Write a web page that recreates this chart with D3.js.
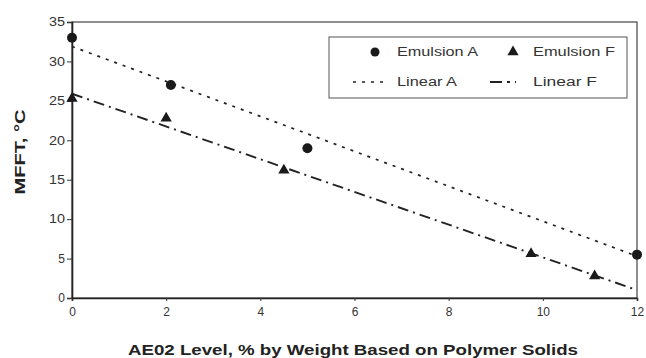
<!DOCTYPE html>
<html>
<head>
<meta charset="utf-8">
<script src="https://cdn.jsdelivr.net/npm/d3@7"></script>
<style>
  body { margin: 0; background: #fff; }
  svg { font-family: Arial, "Liberation Sans", sans-serif; }
</style>
</head>
<body>
<div id="chart"></div>
<script>
'use strict';

// measured points
const emulsionAx = [0, 2.1, 5, 12];
const emulsionAy = [33, 27, 19, 5.5];
const emulsionFx = [0, 2, 4.5, 9.75, 11.1];
const emulsionFy = [25.3, 22.8, 16.2, 5.6, 2.8];
// linear fits (end points)
const linearAx = [0, 12];
const linearAy = [31.9, 5.3];
const linearFx = [0, 12];
const linearFy = [25.9, 1.0];

const xTicks = [0, 2, 4, 6, 8, 10, 12];
const yTicks = [0, 5, 10, 15, 20, 25, 30, 35];
const xTitle = 'AE02 Level, % by Weight Based on Polymer Solids';
const yTitle = 'MFFT, °C';

const margin = {top: 22, right: 9, bottom: 60, left: 72};
const W = 646, H = 358;
const width = W - margin.left - margin.right;
const height = H - margin.top - margin.bottom;

const svg = d3.select('#chart').append('svg')
    .attr('width', W)
    .attr('height', H);

const g = svg.append('g')
    .attr('transform', `translate(${margin.left}, ${margin.top})`);

const x = d3.scaleLinear().domain([0, 12]).range([0, width]);
const y = d3.scaleLinear().domain([0, 35]).range([height, 0]);

// frame
g.append('rect')
    .attr('width', width)
    .attr('height', height)
    .attr('fill', 'none')
    .attr('stroke', '#444')
    .attr('stroke-width', 1.2);

const xAxis = g.append('g')
    .attr('transform', `translate(0, ${height})`)
    .call(d3.axisBottom(x).tickValues(xTicks).tickSize(3).tickPadding(6).tickFormat(d3.format('d')));
const yAxis = g.append('g')
    .call(d3.axisLeft(y).tickValues(yTicks).tickSize(5).tickPadding(2).tickFormat(d3.format('d')));

[xAxis, yAxis].forEach(a => {
  a.select('.domain').attr('stroke', '#222').attr('stroke-width', 1.6);
  a.selectAll('line').attr('stroke', '#333');
  a.selectAll('text').attr('fill', '#333').style('font-size', '12px');
});
yAxis.selectAll('text').attr('textLength', 16).attr('lengthAdjust', 'spacingAndGlyphs');
yAxis.selectAll('.tick').filter(d => d < 10).select('text').attr('textLength', null);

// fit lines
const line = d3.line().x(d => x(d[0])).y(d => y(d[1]));
g.append('path')
    .datum(d3.zip(linearAx, linearAy))
    .attr('d', line)
    .attr('fill', 'none')
    .attr('stroke', '#222')
    .attr('stroke-width', 1.7)
    .attr('stroke-dasharray', '3,6');
g.append('path')
    .datum(d3.zip(linearFx, linearFy))
    .attr('d', line)
    .attr('fill', 'none')
    .attr('stroke', '#222')
    .attr('stroke-width', 1.9)
    .attr('stroke-dasharray', '11,5,2,5');

// markers
g.selectAll('.ptA')
    .data(d3.zip(emulsionAx, emulsionAy))
  .enter().append('circle')
    .attr('cx', d => x(d[0]))
    .attr('cy', d => y(d[1]))
    .attr('r', 5)
    .attr('fill', '#1a1a1a');

const tri = d3.symbol().type(d3.symbolTriangle).size(55);
g.selectAll('.ptF')
    .data(d3.zip(emulsionFx, emulsionFy))
  .enter().append('path')
    .attr('d', tri)
    .attr('transform', d => `translate(${x(d[0])}, ${y(d[1])})`)
    .attr('fill', '#1a1a1a');

// legend
const lg = svg.append('g').attr('transform', 'translate(329, 37)');
lg.append('rect')
    .attr('width', 298)
    .attr('height', 61)
    .attr('fill', '#fff')
    .attr('stroke', '#555')
    .attr('stroke-width', 1);
lg.append('circle').attr('cx', 46).attr('cy', 15).attr('r', 4.5).attr('fill', '#1a1a1a');
lg.append('path').attr('d', tri).attr('transform', 'translate(184, 15)').attr('fill', '#1a1a1a');
lg.append('line').attr('x1', 24).attr('x2', 54).attr('y1', 45).attr('y2', 45)
    .attr('stroke', '#222').attr('stroke-width', 1.7).attr('stroke-dasharray', '3,6');
lg.append('line').attr('x1', 161).attr('x2', 187).attr('y1', 45).attr('y2', 45)
    .attr('stroke', '#222').attr('stroke-width', 1.9).attr('stroke-dasharray', '12,5,3,5');
const legText = [['Emulsion A', 68, 15, 81], ['Emulsion F', 204, 15, 82], ['Linear A', 68, 45, 60], ['Linear F', 204, 45, 64]];
legText.forEach(t => {
  lg.append('text')
      .attr('x', t[1])
      .attr('y', t[2])
      .attr('dy', '0.35em')
      .attr('fill', '#333')
      .attr('textLength', t[3])
      .attr('lengthAdjust', 'spacingAndGlyphs')
      .style('font-size', '12px')
      .text(t[0]);
});

// titles
svg.append('text')
    .attr('x', 128)
    .attr('y', 355)
    .attr('textLength', 450)
    .attr('lengthAdjust', 'spacingAndGlyphs')
    .style('font-size', '14px')
    .style('font-weight', 'bold')
    .attr('fill', '#222')
    .text(xTitle);
svg.append('text')
    .attr('transform', `translate(25, 152) rotate(-90)`)
    .attr('text-anchor', 'middle')
    .attr('textLength', 85)
    .attr('lengthAdjust', 'spacingAndGlyphs')
    .style('font-size', '15px')
    .style('font-weight', 'bold')
    .attr('fill', '#222')
    .text(yTitle);
</script>
</body>
</html>
